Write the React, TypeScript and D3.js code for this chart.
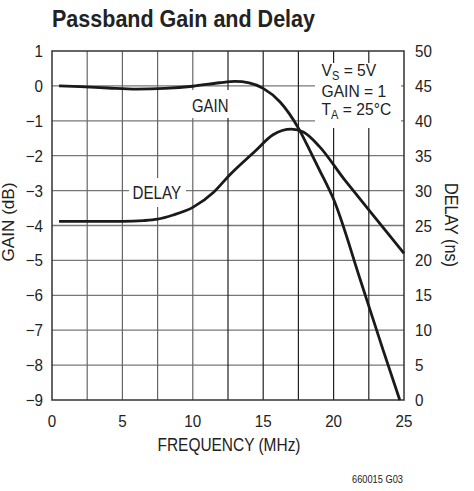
import { useEffect, useRef } from 'react';
import * as d3 from 'd3';

// frequency (MHz) and readings taken off the plot
const gainFreq = [0.5, 2, 4, 6, 8, 10, 11.9, 13, 14, 15, 16.2, 17.5, 18.3, 19, 20, 21.9, 23.5, 24.7];
const gainDb = [0, -0.02, -0.06, -0.09, -0.07, -0.01, 0.09, 0.13, 0.09, -0.07, -0.46, -1.21, -1.84, -2.41, -3.25, -5.56, -7.55, -9.0];

const delayFreq = [0.5, 3, 5, 6.5, 7.5, 8.6, 10, 11.5, 12.6, 14.4, 15.7, 17, 17.85, 19, 20.8, 21.4, 22.6, 25];
const delayNs = [25.6, 25.6, 25.6, 25.7, 25.9, 26.5, 27.6, 29.8, 32.2, 35.6, 38.0, 38.8, 38.4, 36.3, 31.5, 30.0, 27.0, 21.0];

const xTicks = [0, 5, 10, 15, 20, 25];
const xGrid = [2.5, 5, 7.5, 10, 12.5, 15, 17.5, 20, 22.5];
const gainTicks = [1, 0, -1, -2, -3, -4, -5, -6, -7, -8, -9];
const delayTicks = [50, 45, 40, 35, 30, 25, 20, 15, 10, 5, 0];

const font = '"Liberation Sans", Arial, sans-serif';

const App = () => {
  const svgRef = useRef<SVGSVGElement>(null);

  useEffect(() => {
    const w = 474;
    const h = 491;
    const left = 52, right = 404, top = 51, bottom = 400;

    const svg = d3.select(svgRef.current);
    svg.selectAll('*').remove();
    svg.attr('width', w).attr('height', h);

    const x = d3.scaleLinear().domain([0, 25]).range([left, right]);
    const yG = d3.scaleLinear().domain([-9, 1]).range([bottom, top]);
    const yD = d3.scaleLinear().domain([0, 50]).range([bottom, top]);

    svg.append('rect').attr('width', w).attr('height', h).attr('fill', '#fff');

    // condensed text: a group that is squeezed sideways
    const squeezed = (px: number, py: number, sx: number, size: number, anchor = 'start') => {
      const g = svg.append('g').attr('transform', `translate(${px},${py}) scale(${sx},1)`);
      return g.append('text')
        .attr('text-anchor', anchor)
        .style('font-family', font)
        .style('font-size', size + 'px')
        .attr('fill', '#222');
    };
    const fitted = (px: number, py: number, len: number, size: number, txt: string, anchor = 'start') =>
      svg.append('text')
        .attr('x', px).attr('y', py)
        .attr('text-anchor', anchor)
        .attr('textLength', len)
        .attr('lengthAdjust', 'spacingAndGlyphs')
        .style('font-family', font)
        .style('font-size', size + 'px')
        .attr('fill', '#222')
        .text(txt);

    // title
    fitted(left, 27, 263, 24, 'Passband Gain and Delay').style('font-weight', 'bold');

    // grid
    const grid = svg.append('g');
    grid.selectAll('line.h')
      .data(gainTicks.slice(1, -1))
      .enter().append('line')
      .attr('x1', left).attr('x2', right)
      .attr('y1', d => yG(d)).attr('y2', d => yG(d))
      .attr('stroke', '#777').attr('stroke-width', 1.3);
    grid.selectAll('line.v')
      .data(xGrid)
      .enter().append('line')
      .attr('x1', d => x(d)).attr('x2', d => x(d))
      .attr('y1', top).attr('y2', bottom)
      .attr('stroke', d => d >= 12.5 ? '#222' : '#666').attr('stroke-width', 1.2);

    // white boxes behind labels
    svg.append('rect').attr('x', 315).attr('y', 63).attr('width', 86).attr('height', 65).attr('fill', '#fff');
    svg.append('rect').attr('x', 188).attr('y', 90).attr('width', 45).attr('height', 28).attr('fill', '#fff');
    svg.append('rect').attr('x', 129).attr('y', 178).attr('width', 57).attr('height', 29).attr('fill', '#fff');

    // frame
    svg.append('rect')
      .attr('x', left).attr('y', top)
      .attr('width', right - left).attr('height', bottom - top)
      .attr('fill', 'none').attr('stroke', '#333').attr('stroke-width', 1.5);

    // curves
    const gainLine = d3.line<number>()
      .x((_, i) => x(gainFreq[i]))
      .y(d => yG(d))
      .curve(d3.curveMonotoneX);
    const delayLine = d3.line<number>()
      .x((_, i) => x(delayFreq[i]))
      .y(d => yD(d))
      .curve(d3.curveMonotoneX);

    svg.append('path').attr('d', gainLine(gainDb))
      .attr('fill', 'none').attr('stroke', '#1a1a1a').attr('stroke-width', 2.8);
    svg.append('path').attr('d', delayLine(delayNs))
      .attr('fill', 'none').attr('stroke', '#1a1a1a').attr('stroke-width', 2.8);

    // left ticks
    gainTicks.forEach(d => {
      squeezed(43, yG(d) + 6, 0.92, 16.5, 'end').text(d < 0 ? '\u2212' + Math.abs(d) : String(d));
    });
    // right ticks
    delayTicks.forEach(d => {
      squeezed(415, yD(d) + 6, 0.92, 16.5).text(String(d));
    });
    // bottom ticks
    xTicks.forEach(d => {
      squeezed(x(d), 427, 0.92, 16.5, 'middle').text(String(d));
    });

    fitted(229, 451, 143, 17.5, 'FREQUENCY (MHz)', 'middle');

    fitted(0, 0, 79, 17, 'GAIN (dB)', 'middle')
      .attr('transform', 'translate(13.5, 222) rotate(-90)');
    fitted(0, 0, 84, 17.5, 'DELAY (ns)', 'middle')
      .attr('transform', 'translate(445, 225) rotate(90)');

    fitted(403, 483, 51, 11.6, '660015 G03', 'end');

    // curve labels
    fitted(192, 111.5, 36.5, 19, 'GAIN');
    fitted(132.5, 198.5, 48.5, 18, 'DELAY');

    // conditions
    const t1 = squeezed(321.5, 76, 0.92, 17);
    t1.append('tspan').text('V');
    t1.append('tspan').attr('dy', 4).style('font-size', '12px').text('S');
    t1.append('tspan').attr('dy', -4).text(' = 5V');
    squeezed(321.5, 96.5, 0.92, 17).text('GAIN = 1');
    const t3 = squeezed(321.5, 115, 0.92, 17);
    t3.append('tspan').text('T');
    t3.append('tspan').attr('dy', 4).style('font-size', '12px').text('A');
    t3.append('tspan').attr('dy', -4).text(' = 25\u00B0C');
  }, []);

  return (
    <svg ref={svgRef} style={{ position: 'absolute', left: 0, top: 0 }}></svg>
  );
};

export default App;
